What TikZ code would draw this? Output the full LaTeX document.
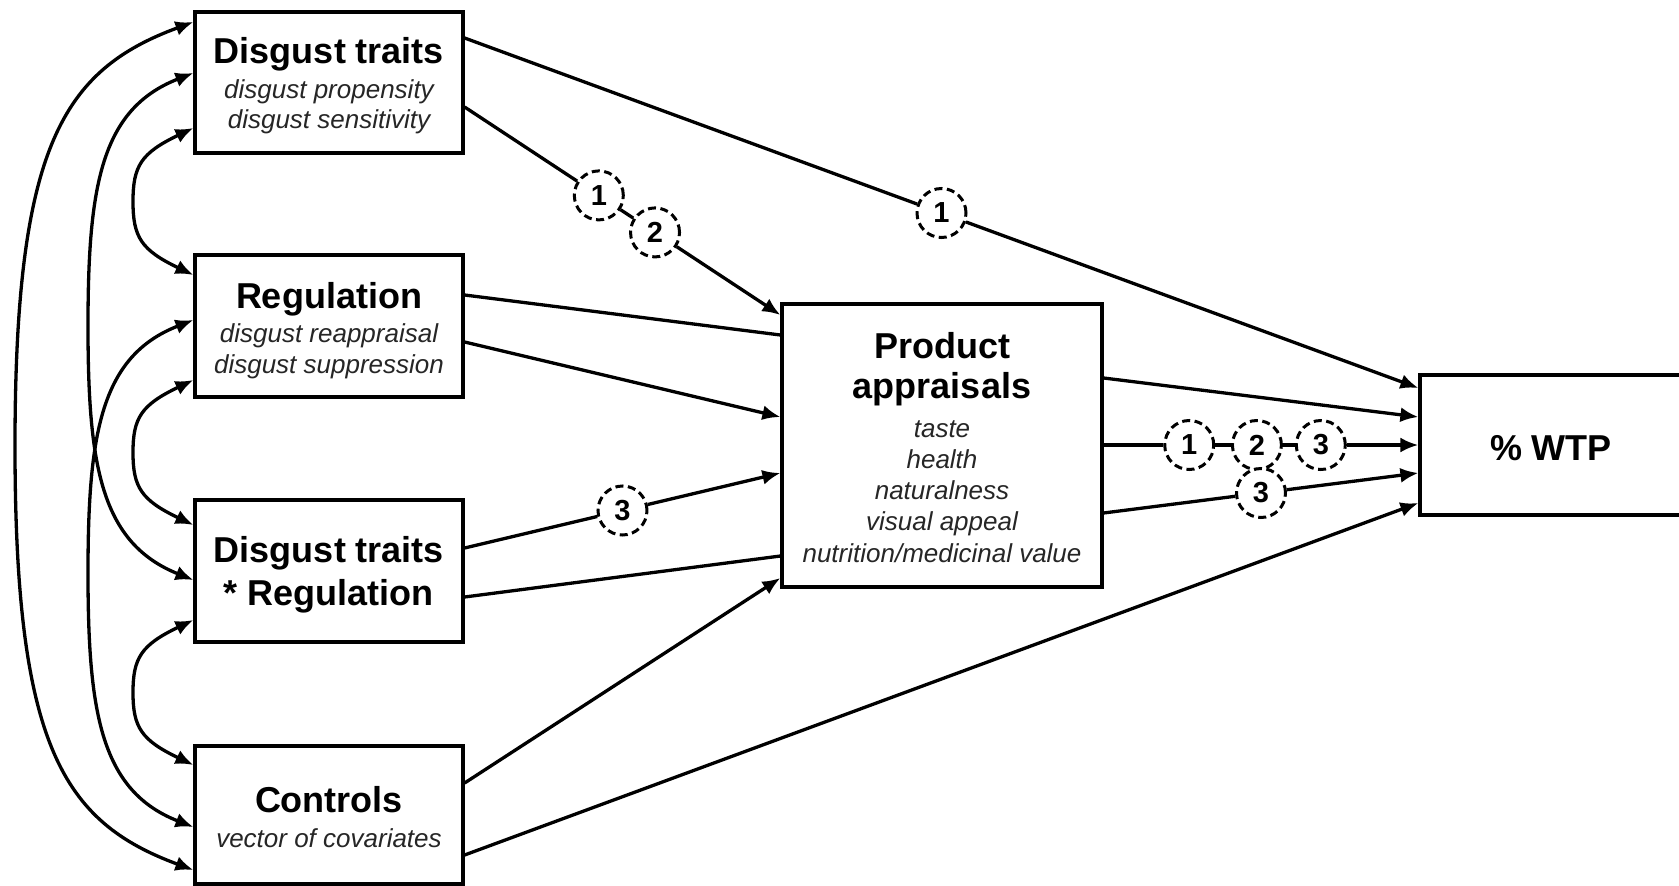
\documentclass[tikz,border=0pt]{standalone}
\usepackage{fontspec}
\setmainfont{Liberation Sans}
\usetikzlibrary{arrows.meta,calc}
\begin{document}
\begin{tikzpicture}[x=1pt,y=-1pt,
  box/.style={draw, line width=3.2pt, inner sep=0pt},
  ttl/.style={font=\fontsize{36}{40}\selectfont\bfseries, inner sep=0pt, anchor=base},
  sub/.style={font=\fontsize{26}{30}\selectfont\itshape, inner sep=0pt, anchor=base, text=black!85},
  con/.style={line width=3.3pt},
  arr/.style={line width=3.3pt, -{Latex[length=18pt,width=15pt]}},
  arcs/.style={line width=3.3pt, {Latex[length=18pt,width=15pt]}-{Latex[length=18pt,width=15pt]}},
  num/.style={circle, draw, line width=3pt, dash pattern=on 8pt off 4.5pt, fill=white,
              minimum size=49pt, inner sep=0pt, font=\fontsize{29}{29}\selectfont\bfseries}
]
\useasboundingbox (0,0) rectangle (1679,886);
\fill[white] (0,0) rectangle (1679,886);

% ---------- boxes ----------
\node[box, minimum width=268pt, minimum height=141pt] (dt)  at (329,82.5) {};
\node[box, minimum width=268pt, minimum height=142pt] (reg) at (329,326) {};
\node[box, minimum width=268pt, minimum height=142pt] (dtr) at (329,571) {};
\node[box, minimum width=268pt, minimum height=138pt] (ctl) at (329,815) {};
\node[box, minimum width=320pt, minimum height=283pt] (pa)  at (942,445.5) {};
\node[box, minimum width=263pt, minimum height=140pt] (wtp) at (1551.5,445) {};

% ---------- texts ----------
\node[ttl] (dtT)  at (329,63)  {Disgust traits};
\node[sub] (dtS1) at (329,98)  {disgust propensity};
\node[sub] (dtS2) at (329,128) {disgust sensitivity};

\node[ttl] (regT)  at (329,308) {Regulation};
\node[sub] (regS1) at (329,342) {disgust reappraisal};
\node[sub] (regS2) at (329,373) {disgust suppression};

\node[ttl] (dtrT1) at (329,562) {Disgust traits};
\node[ttl] (dtrT2) at (329,605) {* Regulation};

\node[ttl] (ctlT) at (329,812) {Controls};
\node[sub] (ctlS) at (329,847) {vector of covariates};

\node[ttl] (paT1) at (942,358) {Product};
\node[ttl] (paT2) at (942,398) {appraisals};
\node[sub] (paS1) at (942,437) {taste};
\node[sub] (paS2) at (942,468) {health};
\node[sub] (paS3) at (942,499) {naturalness};
\node[sub] (paS4) at (942,530) {visual appeal};
\node[sub] (paS5) at (942,562) {nutrition/medicinal value};

\node[ttl] (wtpT) at (1551,460) {\% WTP};

% ---------- left covariance arcs ----------
\draw[arcs] (dt.west |- 0,22) .. controls (63,70) and (15,146) .. (15,446)
            .. controls (15,746) and (63,822) .. (ctl.west |- 0,870);
\draw[arcs] (dt.west |- 0,73) .. controls (101,109) and (88,186) .. (88,326)
            .. controls (88,466) and (101,543) .. (dtr.west |- 0,580);
\draw[arcs] (reg.west |- 0,320) .. controls (101,356) and (88,433) .. (88,573)
            .. controls (88,713) and (101,791) .. (ctl.west |- 0,827);
\draw[arcs] (dt.west |- 0,128) .. controls (141,153) and (133,166) .. (133,201.5)
            .. controls (133,237) and (141,250) .. (reg.west |- 0,275);
\draw[arcs] (reg.west |- 0,380) .. controls (141,405) and (133,418) .. (133,452.5)
            .. controls (133,487) and (141,500) .. (dtr.west |- 0,525);
\draw[arcs] (dtr.west |- 0,620) .. controls (141,645) and (133,658) .. (133,692.5)
            .. controls (133,727) and (141,740) .. (ctl.west |- 0,765);

% ---------- paths into product appraisals ----------
\coordinate (a1s) at (dt.east |- 0,107);
\coordinate (a1e) at (pa.west |- 0,315);
\node[num] (c1a) at ($(a1s)!0.425!(a1e)$) {1};
\node[num] (c2a) at ($(a1s)!0.603!(a1e)$) {2};
\draw[con] (a1s) -- (c1a);
\draw[con] (c1a) -- (c2a);
\draw[arr] (c2a) -- (a1e);

\draw[con] (reg.east |- 0,295) -- (pa.west |- 0,335);
\draw[arr] (reg.east |- 0,342) -- (pa.west |- 0,417);

\coordinate (a4s) at (dtr.east |- 0,548);
\coordinate (a4e) at (pa.west |- 0,473);
\node[num] (c3a) at ($(a4s)!0.5!(a4e)$) {3};
\draw[con] (a4s) -- (c3a);
\draw[arr] (c3a) -- (a4e);

\draw[con] (dtr.east |- 0,597) -- (pa.west |- 0,556);
\draw[arr] (ctl.east |- 0,783) -- (pa.west |- 0,578);

% ---------- paths into WTP ----------
\coordinate (b1s) at (dt.east |- 0,38);
\coordinate (b1e) at (wtp.west |- 0,388);
\node[num] (c1b) at ($(b1s)!0.5!(b1e)$) {1};
\draw[con] (b1s) -- (c1b);
\draw[arr] (c1b) -- (b1e);

\draw[arr] (pa.east |- 0,378) -- (wtp.west |- 0,417);

\coordinate (b3s) at (pa.east |- 0,445);
\coordinate (b3e) at (wtp.west |- 0,445);
\node[num] (c1c) at ($(b3s)!0.272!(b3e)$) {1};
\node[num] (c2c) at ($(b3s)!0.487!(b3e)$) {2};
\node[num] (c3c) at ($(b3s)!0.690!(b3e)$) {3};
\draw[con] (b3s) -- (c1c);
\draw[con] (c1c) -- (c2c);
\draw[con] (c2c) -- (c3c);
\draw[arr] (c3c) -- (b3e);

\coordinate (b4s) at (pa.east |- 0,513);
\coordinate (b4e) at (wtp.west |- 0,473);
\node[num] (c3d) at ($(b4s)!0.5!(b4e)$) {3};
\draw[con] (b4s) -- (c3d);
\draw[arr] (c3d) -- (b4e);

\draw[arr] (ctl.east |- 0,855) -- (wtp.west |- 0,503);
\end{tikzpicture}
\end{document}
